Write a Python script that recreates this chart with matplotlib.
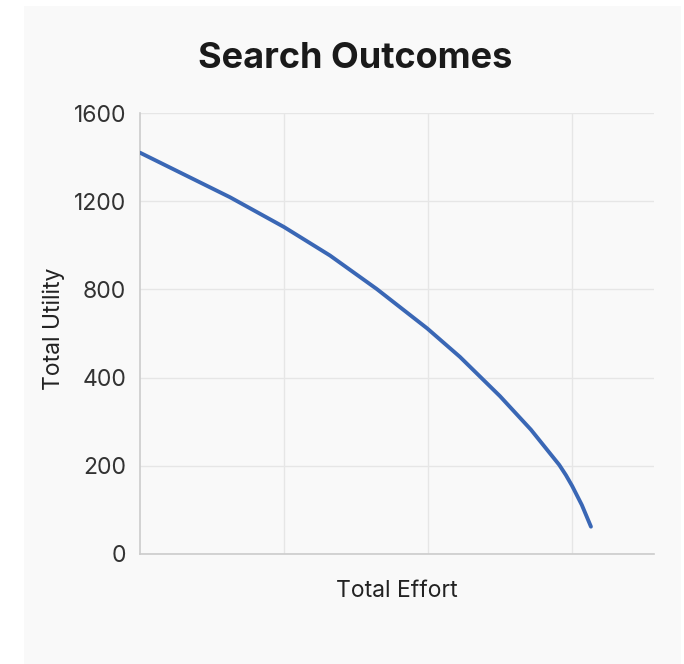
import matplotlib
matplotlib.use("Agg")
import matplotlib.pyplot as plt
from matplotlib.patches import Rectangle
import numpy as np

# data
effort = [0.0, 0.625, 1.0, 1.319, 1.644, 1.995, 2.222, 2.5, 2.715,
          2.912, 2.958, 3.002, 3.069, 3.132]
utility = [1420, 1218, 1083, 954, 802, 623, 494, 358, 282,
           202, 179, 154, 111, 62]
ytick_values = [0, 200, 400, 800, 1200, 1600]
ytick_labels = ["0", "200", "400", "800", "1200", "1600"]
xgrid = [1, 2, 3]

plt.rcParams["font.family"] = ["Inter", "DejaVu Sans"]

# ticks are evenly spaced although their values are not
tick_pos = np.arange(len(ytick_values), dtype=float)

def fwd(v):
    return np.interp(v, ytick_values, tick_pos)

def inv(p):
    return np.interp(p, tick_pos, ytick_values)

fig = plt.figure(figsize=(6.84, 6.64), dpi=100)
fig.patch.set_facecolor("white")
fig.patches.append(Rectangle((24 / 684, 0), 657 / 684, 658 / 664,
    transform=fig.transFigure, facecolor="#f9f9f9", edgecolor="none", zorder=-5))

ax = fig.add_axes([140 / 684, 1 - 554 / 664, 514 / 684, 441 / 664])
ax.set_facecolor("#f9f9f9")
ax.set_yscale("function", functions=(fwd, inv))
ax.set_ylim(0, 1600)
ax.set_xlim(0, 3.57)

ax.plot(effort, utility, color="#3a67b5", lw=2.8, solid_capstyle="round",
    solid_joinstyle="round", zorder=3)

ax.set_yticks(ytick_values)
ax.set_yticklabels(ytick_labels)
ax.set_xticks(xgrid)
ax.set_xticklabels([])
ax.tick_params(length=0, labelsize=16.5, colors="#333333", pad=10)
ax.grid(True, color="#e6e6e6", lw=1)
ax.set_axisbelow(True)

for s in ["top", "right"]:
    ax.spines[s].set_visible(False)
for s in ["left", "bottom"]:
    ax.spines[s].set_color("#cccccc")
    ax.spines[s].set_linewidth(1.2)

ax.set_xlabel("Total Effort", fontsize=16.5, color="#222222", labelpad=9)
ax.set_ylabel("Total Utility", fontsize=16.5, color="#222222")
ax.yaxis.set_label_coords(-0.145, 0.51)
fig.text(355 / 684, 1 - 58 / 664, "Search Outcomes", ha="center", va="center",
    fontsize=26, fontweight="bold", color="#1a1a1a")

fig.savefig("out.png", dpi=100)
